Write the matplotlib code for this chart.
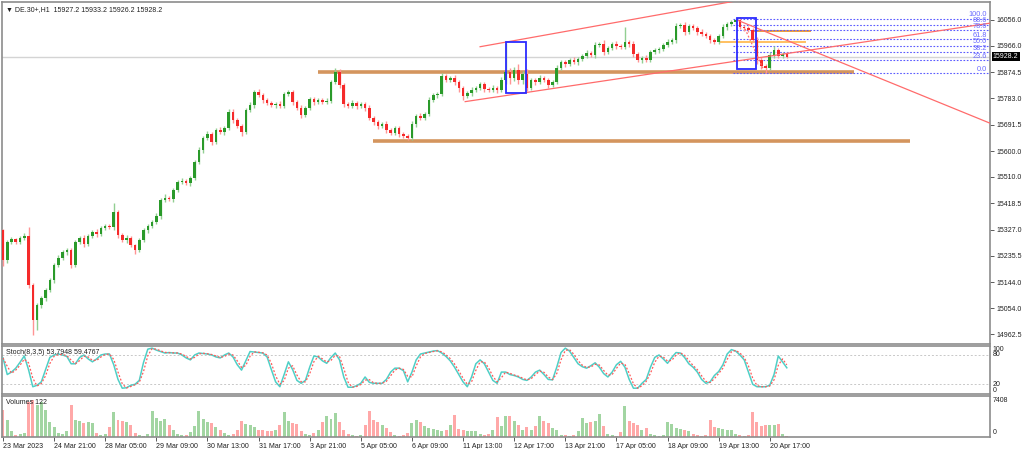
import numpy as np
import pandas as pd
import matplotlib
matplotlib.use("Agg")
import matplotlib.pyplot as plt
import matplotlib.transforms as mtrans
from matplotlib.patches import Rectangle

plt.rcParams['font.family'] = ['Liberation Sans', 'DejaVu Sans']

closes = [
    15221, 15284, 15294, 15284, 15298, 15305, 15134, 15012, 15065, 15089, 15117, 15152, 15204, 15228, 15249, 15256, 15204, 15284, 15298, 15277,
    15305, 15319, 15312, 15332, 15339, 15336, 15388, 15308, 15291, 15298, 15273, 15256, 15291, 15325, 15339, 15353, 15374, 15430, 15437, 15433,
    15465, 15492, 15496, 15489, 15506, 15562, 15604, 15646, 15659, 15632, 15673, 15666, 15680, 15736, 15708, 15687, 15666, 15743, 15760, 15806,
    15795, 15778, 15767, 15760, 15764, 15757, 15799, 15806, 15771, 15750, 15726, 15750, 15781, 15771, 15778, 15771, 15774, 15840, 15875, 15830,
    15764, 15757, 15767, 15757, 15764, 15750, 15715, 15701, 15687, 15694, 15673, 15663, 15680, 15659, 15652, 15646, 15694, 15722, 15715, 15729,
    15778, 15795, 15799, 15861, 15847, 15854, 15840, 15819, 15792, 15802, 15812, 15819, 15833, 15816, 15812, 15819, 15812, 15847, 15875, 15854,
    15882, 15847, 15868, 15819, 15847, 15840, 15854, 15847, 15830, 15840, 15889, 15910, 15903, 15917, 15910, 15920, 15931, 15941, 15934, 15969,
    15973, 15945, 15959, 15973, 15966, 15962, 15980, 15973, 15938, 15917, 15924, 15917, 15945, 15952, 15955, 15969, 15980, 15986, 16035, 16039,
    16014, 16035, 16028, 16014, 16007, 16000, 15986, 15980, 16000, 16032, 16042, 16049, 16056, 16032, 16028, 16021, 15986, 15917, 15896, 15889,
    15934, 15952, 15931, 15938, 15928.2,
]
first_open = 15325

wick_up = [
    4, 6, 8, 5, 6, 10, 31, 8, 6, 8, 6, 5, 8, 10, 6, 8, 6, 8, 6, 10,
    6, 8, 10, 6, 8, 6, 31, 8, 6, 10, 6, 5, 6, 8, 6, 8, 10, 8, 12, 6,
    8, 6, 10, 8, 6, 8, 10, 8, 12, 6, 8, 10, 6, 10, 12, 8, 6, 8, 10, 8,
    10, 6, 8, 6, 8, 10, 8, 6, 8, 6, 10, 8, 6, 8, 6, 8, 10, 8, 14, 10,
    8, 6, 10, 8, 6, 8, 10, 6, 8, 6, 10, 8, 6, 8, 6, 8, 10, 8, 12, 8,
    10, 8, 6, 12, 8, 6, 10, 8, 6, 8, 10, 6, 8, 6, 8, 10, 6, 12, 101, 15,
    12, 20, 10, 18, 8, 6, 10, 8, 6, 8, 10, 8, 6, 8, 10, 6, 8, 10, 8, 10,
    8, 12, 6, 8, 10, 8, 52, 8, 10, 6, 8, 10, 6, 8, 6, 8, 10, 8, 12, 8,
    10, 8, 6, 8, 10, 6, 8, 6, 8, 10, 8, 6, 7, 10, 8, 6, 8, 12, 10, 8,
    10, 12, 8, 6, 5,
]
wick_dn = [
    20, 10, 8, 6, 8, 6, 10, 52, 34, 10, 12, 8, 10, 8, 6, 10, 12, 8, 6, 10,
    8, 6, 10, 8, 6, 8, 10, 12, 8, 10, 8, 15, 8, 6, 10, 8, 6, 10, 8, 6,
    10, 8, 6, 8, 10, 6, 8, 10, 6, 12, 8, 6, 10, 8, 10, 8, 12, 6, 8, 10,
    8, 10, 6, 8, 10, 8, 6, 8, 10, 8, 12, 6, 8, 10, 8, 6, 8, 6, 8, 10,
    12, 8, 6, 10, 8, 10, 8, 12, 10, 8, 10, 8, 6, 10, 8, 7, 8, 10, 6, 8,
    8, 6, 10, 8, 6, 8, 10, 12, 14, 8, 10, 6, 8, 10, 8, 6, 10, 8, 12, 20,
    10, 12, 15, 10, 8, 10, 8, 6, 10, 8, 6, 8, 10, 6, 8, 10, 8, 6, 8, 10,
    8, 10, 6, 8, 10, 8, 6, 10, 12, 8, 10, 8, 6, 8, 10, 8, 6, 8, 10, 8,
    10, 8, 6, 10, 8, 6, 10, 8, 6, 8, 10, 8, 6, 8, 10, 8, 6, 15, 12, 17,
    8, 10, 8, 6, 4,
]

volumes = [
    5500, 3500, 1200, 500, 600, 800, 7000, 7400, 6500, 7000, 5500, 3000, 2000, 800, 600, 1200, 6500, 3500, 3200, 2800,
    3000, 2800, 900, 500, 600, 2000, 5000, 3500, 3300, 3000, 2500, 800, 500, 300, 700, 5300, 3800, 3200, 3600, 2500,
    1500, 600, 400, 500, 1000, 2200, 5300, 3600, 3000, 2800, 2000, 1400, 800, 500, 600, 1500, 3200, 2600, 2400, 2000,
    1500, 1400, 1300, 1200, 1500, 2500, 5000, 3200, 2800, 2600, 1200, 600, 400, 800, 1500, 3000, 4200, 3600, 4800, 3000,
    1500, 600, 400, 300, 500, 2500, 5200, 3500, 3000, 2400, 1800, 1000, 500, 300, 400, 800, 2800, 3400, 3100, 2200,
    1800, 1600, 1400, 1200, 1500, 2500, 4400, 1600, 1400, 1200, 1300, 1200, 600, 400, 600, 1500, 4000, 2300, 4200, 4200,
    3200, 2400, 1500, 2000, 1400, 2200, 4200, 3200, 2800, 1800, 1400, 500, 400, 300, 400, 1200, 3800, 2800, 3000, 3200,
    4600, 2200, 600, 400, 300, 1000, 6200, 3200, 2800, 2500, 1500, 1800, 600, 400, 300, 500, 3000, 2600, 1800, 1600,
    1500, 1200, 600, 400, 300, 500, 3400, 2100, 1800, 1600, 1400, 1500, 700, 400, 300, 500, 5000, 3000, 2200, 2400,
    2400, 2500, 2600, 600, 300,
]

stoch_k = [
    74, 40, 45, 53, 65, 78, 50, 15, 18, 25, 50, 75, 80, 82, 80, 77, 62, 62, 75, 80,
    72, 66, 72, 80, 82, 82, 60, 30, 12, 13, 18, 20, 28, 65, 92, 94, 90, 87, 84, 85,
    84, 84, 80, 74, 70, 80, 84, 83, 82, 80, 76, 74, 80, 84, 76, 60, 49, 68, 87, 86,
    85, 84, 76, 50, 25, 15, 40, 66, 50, 28, 22, 28, 55, 78, 76, 68, 63, 75, 84, 70,
    35, 14, 14, 17, 22, 35, 24, 22, 22, 22, 30, 45, 53, 53, 48, 25, 45, 70, 82, 84,
    86, 88, 89, 84, 77, 68, 55, 40, 25, 15, 35, 62, 70, 62, 45, 28, 22, 45, 45, 40,
    38, 35, 30, 28, 35, 45, 49, 40, 30, 29, 55, 85, 94, 88, 75, 62, 56, 53, 58, 64,
    55, 42, 35, 45, 60, 67, 55, 30, 12, 12, 22, 30, 55, 75, 80, 72, 63, 75, 85, 84,
    75, 62, 55, 45, 30, 22, 25, 38, 46, 60, 82, 91, 88, 80, 70, 45, 20, 15, 15, 15,
    18, 40, 78, 66, 53.7948,
]
stoch_label = 'Stoch(8,3,5) 53.7948 59.4767'

date_labels = ['23 Mar 2023', '24 Mar 21:00', '28 Mar 05:00', '29 Mar 09:00', '30 Mar 13:00',
               '31 Mar 17:00', '3 Apr 21:00', '5 Apr 05:00', '6 Apr 09:00', '11 Apr 13:00',
               '12 Apr 17:00', '13 Apr 21:00', '17 Apr 05:00', '18 Apr 09:00', '19 Apr 13:00',
               '20 Apr 17:00']
label_step = 12

price_ticks = [16056.0, 15966.0, 15874.5, 15783.0, 15691.5, 15600.0, 15510.0,
               15418.5, 15327.0, 15235.5, 15144.0, 15054.0, 14962.5]
last_price = 15928.2
header = '\u25bc DE.30+,H1  15927.2 15933.2 15926.2 15928.2'

# objetos dibujados (indice de vela, precio)
support_levels = [15876, 15636]
support_span = [(73.9, 199.8), (86.9, 212.9)]
minor_levels = [16019, 15978]
minor_span = [(176.5, 189.4), (168.3, 188.3)]
minor_colors = ['#EE9C3C', '#FFC061']
channel_lower = [(108.5, 15772), (231.7, 16045)]
channel_upper = [(112.0, 15963), (190.0, 16170)]
down_line = [(172.3, 16056), (231.7, 15697)]
fib_diag = [(174.2, 16025), (178.6, 15882)]
boxes = [(118.0, 122.7, 15801, 15978), (172.4, 176.8, 15885, 16064)]
fib_levels = [100.0, 88.6, 78.6, 61.8, 50.0, 38.2, 23.6, 0.0]
fib_high = 16060.5
fib_low = 15871.6
fib_start = 171.4

# ---- velas ----
n = len(closes)
idx = np.arange(n)
c = np.array(closes, dtype=float)
o = np.concatenate([[first_open], c[:-1]])
hi = np.maximum(o, c) + np.array(wick_up)
lo = np.minimum(o, c) - np.array(wick_dn)
up = c >= o

W, H = 1024, 449
fig = plt.figure(figsize=(W / 100, H / 100), dpi=100)


def panel(top, bottom):
    return fig.add_axes([2 / W, 1 - bottom / H, 988 / W, (bottom - top) / H])


ax = panel(2, 344)
ax_st = panel(346, 394)
ax_v = panel(396, 437)

xlim = (-0.23, 231.7)
for a in (ax, ax_st, ax_v):
    a.set_xlim(*xlim)
    for s in a.spines.values():
        s.set_color('#8C8C8C')
        s.set_linewidth(1.2)
    a.tick_params(axis='x', bottom=False, labelbottom=False)

# precio
ax.set_ylim(14928.8, 16118.6)
ax.axhline(last_price, color='#D4D4D4', lw=1.0, zorder=1)

green, red = '#2A9A2A', '#F52A2A'
green_l, red_l = '#92CF92', '#FF9494'
body_col = np.where(up, green, red)
wick_col = np.where(up, green_l, red_l)
ax.vlines(idx, lo, hi, colors=wick_col, lw=1.0, zorder=3)
ax.bar(idx, np.maximum(np.abs(c - o), 2.0), bottom=np.minimum(o, c), width=0.6,
       color=body_col, lw=0, zorder=4)

# soportes
for lvl, (x0, x1) in zip(support_levels, support_span):
    ax.plot([x0, x1], [lvl, lvl], color='#D08A4C', lw=2.6, alpha=0.9, zorder=2,
            solid_capstyle='butt')
for lvl, (x0, x1), col in zip(minor_levels, minor_span, minor_colors):
    ax.plot([x0, x1], [lvl, lvl], color=col, lw=1.4, zorder=2)

# canal y lineas de tendencia
for seg in (channel_lower, channel_upper, down_line):
    ax.plot([seg[0][0], seg[1][0]], [seg[0][1], seg[1][1]], color='#FF6B6B', lw=0.9, zorder=5)
ax.plot([fib_diag[0][0], fib_diag[1][0]], [fib_diag[0][1], fib_diag[1][1]],
        color='#FF6B6B', lw=0.9, ls=(0, (1.5, 1.5)), zorder=5)

# fibonacci
for lvl in fib_levels:
    p = fib_low + lvl / 100 * (fib_high - fib_low)
    ax.plot([fib_start, xlim[1]], [p, p], color='#5A5AFF', lw=0.8,
            ls=(0, (1.5, 1.5)), zorder=2)
    ax.text(231.0, p + 1.5, f'{lvl:.1f}', ha='right', va='bottom', fontsize=5.3,
            color='#6A6AFF', zorder=6)

# rectangulos
for x0, x1, p0, p1 in boxes:
    ax.add_patch(Rectangle((x0, p0), x1 - x0, p1 - p0, fill=False,
                           ec='#2B2BFF', lw=1.3, zorder=6))

ax.yaxis.tick_right()
ax.set_yticks(price_ticks)
ax.set_yticklabels([f'{t:.1f}' for t in price_ticks])
ax.tick_params(axis='y', length=3, width=0.6, color='#404040', labelsize=5,
               pad=1.5, labelcolor='#202020')

blend = mtrans.blended_transform_factory(ax.transAxes, ax.transData)
ax.text(1.003, last_price, f'{last_price:.1f}', transform=blend, ha='left',
        va='center', fontsize=5, color='white',
        bbox=dict(fc='black', ec='none', pad=0.9), zorder=7)
ax.text(0.004, 0.988, header, transform=ax.transAxes, ha='left', va='top',
        fontsize=5, color='#202020')

# estocastico
k = pd.Series(stoch_k, dtype=float)
d = k.rolling(2, min_periods=1).mean()
ax_st.set_ylim(0.14, 98.4)
for lvl in (80, 20):
    ax_st.axhline(lvl, color='#C8C8C8', lw=0.7, ls=(0, (2, 2)))
ax_st.plot(idx, k, color='#4FCFC6', lw=1.1, zorder=3)
ax_st.plot(idx, d, color='#FF5A5A', lw=0.9, ls=(0, (1.5, 1.5)), zorder=4)
ax_st.set_yticks([])
ax_st.text(0.004, 0.93, stoch_label, transform=ax_st.transAxes, ha='left', va='top',
           fontsize=5, color='#202020')
blend_st = mtrans.blended_transform_factory(ax_st.transAxes, ax_st.transData)
for txt, v in (('100', 91), ('80', 80), ('20', 20), ('0', 8)):
    ax_st.text(1.003, v, txt, transform=blend_st, ha='left', va='center',
               fontsize=5, color='#202020')

# volumen
vol_col = np.where(up, '#A2D5A2', '#FFA8A8')
ax_v.bar(idx, volumes, width=0.7, color=vol_col, lw=0)
ax_v.set_ylim(0, 8200)
ax_v.set_yticks([])
ax_v.text(0.004, 0.93, 'Volumes 122', transform=ax_v.transAxes, ha='left', va='top',
          fontsize=5, color='#202020')
blend_v = mtrans.blended_transform_factory(ax_v.transAxes, ax_v.transData)
ax_v.text(1.003, 7200, '7408', transform=blend_v, ha='left', va='center',
          fontsize=5, color='#202020')
ax_v.text(1.003, 900, '0', transform=blend_v, ha='left', va='center',
          fontsize=5, color='#202020')

tick_pos = idx[::label_step][:len(date_labels)]
ax_v.set_xticks(tick_pos)
ax_v.set_xticklabels(date_labels, ha='left')
ax_v.tick_params(axis='x', bottom=True, labelbottom=True, length=3, width=0.6,
                 color='#404040', labelsize=5, pad=1, labelcolor='#202020')

fig.savefig('out.png', dpi=100, facecolor='white')
